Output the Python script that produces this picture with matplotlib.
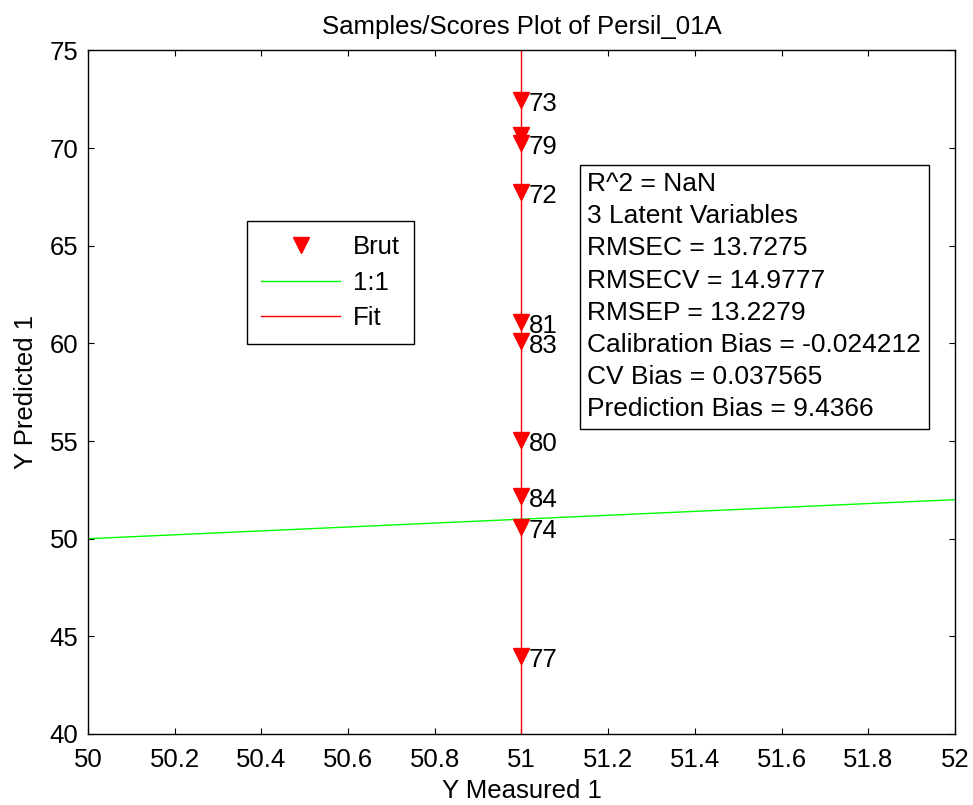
import matplotlib
matplotlib.use('Agg')
import matplotlib.pyplot as plt

plt.rcParams['font.family'] = ['Liberation Sans', 'DejaVu Sans']

# -- Sample values (measured / predicted) and their labels
measured = [51, 51, 51, 51, 51, 51, 51, 51, 51, 51]
predicted = [72.45, 70.65, 70.25, 67.75, 61.1, 60.1, 55.05, 52.2, 50.6, 44.0]
sample_ids = ['73', '', '79', '72', '81', '83', '80', '84', '74', '77']

# -- Reference lines
one_to_one_x = [50, 52]
one_to_one_y = [50, 52]
fit_x = [51, 51]
fit_y = [40, 75]

stats_lines = ['R^2 = NaN', '3 Latent Variables', 'RMSEC = 13.7275', 'RMSECV = 14.9777',
               'RMSEP = 13.2279', 'Calibration Bias = -0.024212', 'CV Bias = 0.037565',
               'Prediction Bias = 9.4366']

xticks = [50, 50.2, 50.4, 50.6, 50.8, 51, 51.2, 51.4, 51.6, 51.8, 52]
yticks = [40, 45, 50, 55, 60, 65, 70, 75]

fs = 18.5

fig = plt.figure(figsize=(9.73, 8.05), dpi=100)
ax = fig.add_axes([0.0904, 0.0882, 0.8911, 0.8491])

ax.plot(measured, predicted, linestyle='none', marker='v', color='red',
        markersize=12, label='Brut', zorder=3)
ax.plot(one_to_one_x, one_to_one_y, color='#00ff00', linewidth=1, label='1:1')
ax.plot(fit_x, fit_y, color='red', linewidth=1, label='Fit')

# -- Sample labels next to each marker
for xv, yv, s in zip(measured, predicted, sample_ids):
    ax.annotate(s, (xv, yv), xytext=(5, -3), textcoords='offset points',
                fontsize=fs, va='center', ha='left')

ax.set_xlim(50, 52)
ax.set_ylim(40, 75)
ax.set_xticks(xticks)
ax.set_xticklabels(['50', '50.2', '50.4', '50.6', '50.8', '51', '51.2', '51.4', '51.6', '51.8', '52'])
ax.set_yticks(yticks)
ax.tick_params(axis='both', direction='in', length=4, top=True, right=True, labelsize=fs)
ax.tick_params(axis='x', pad=10)
ax.tick_params(axis='y', pad=7)
for sp in ax.spines.values():
    sp.set_linewidth(1)

ax.set_title('Samples/Scores Plot of Persil_01A', fontsize=fs, pad=12)
ax.set_xlabel('Y Measured 1', fontsize=fs, labelpad=5)
ax.set_ylabel('Y Predicted 1', fontsize=fs, labelpad=8)

leg = ax.legend(loc='upper left', bbox_to_anchor=(0.183, 0.7505), borderaxespad=0,
                fontsize=fs, handlelength=3.1, handletextpad=0.5, labelspacing=0.45,
                borderpad=0.55, fancybox=False, framealpha=1, edgecolor='black')
leg.get_frame().set_linewidth(1)

ax.text(0.576, 0.822, '\n'.join(stats_lines), transform=ax.transAxes, fontsize=19,
        va='top', ha='left', linespacing=1.43,
        bbox=dict(boxstyle='square,pad=0.28', facecolor='white', edgecolor='black', linewidth=1))

fig.savefig('out.png', dpi=100)
